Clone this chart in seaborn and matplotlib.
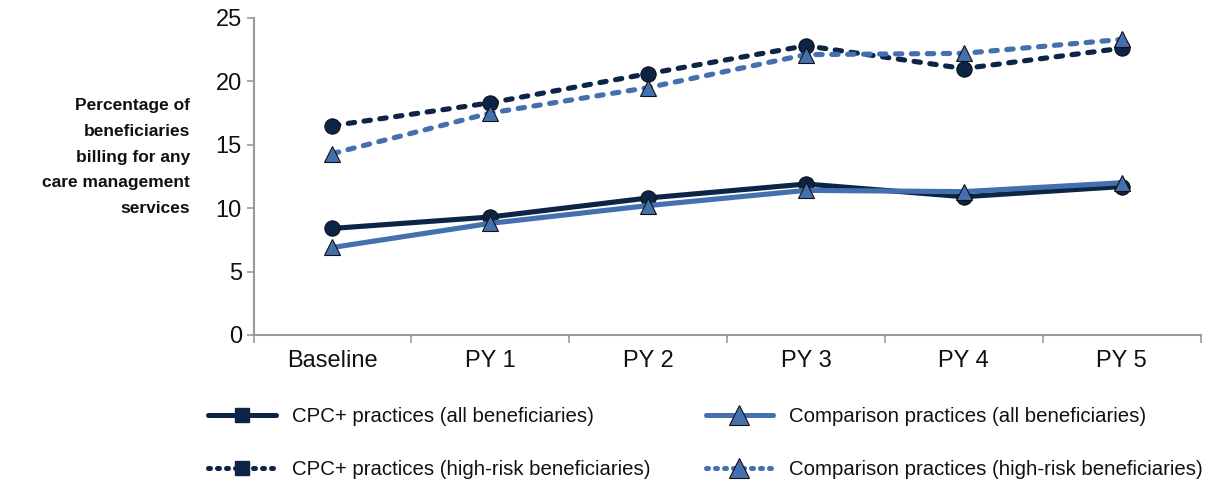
import pandas as pd
import numpy as np
import matplotlib
matplotlib.use('Agg')
import matplotlib.pyplot as plt
from matplotlib.lines import Line2D
import seaborn as sns

# values
periods = ['Baseline', 'PY 1', 'PY 2', 'PY 3', 'PY 4', 'PY 5']
cpc_all = [8.4, 9.3, 10.8, 11.9, 10.9, 11.7]
comp_all = [6.9, 8.8, 10.2, 11.4, 11.3, 12.0]
cpc_high = [16.5, 18.3, 20.6, 22.8, 21.0, 22.6]
comp_high = [14.3, 17.5, 19.5, 22.1, 22.2, 23.3]

labels = ['CPC+ practices (all beneficiaries)',
          'CPC+ practices (high-risk beneficiaries)',
          'Comparison practices (all beneficiaries)',
          'Comparison practices (high-risk beneficiaries)']

navy = '#0c2546'
blue = '#4470b0'

sns.set_theme(style='white')
plt.rcParams['font.family'] = ['Liberation Sans', 'DejaVu Sans']

fig = plt.figure(figsize=(12.25, 4.82), dpi=100)
ax = fig.add_axes([0.207, 0.305, 0.773, 0.658])

dash = (0, (1.25, 1.85))
series = [
    (cpc_high, navy, 'o', dash, 11),
    (comp_high, blue, '^', dash, 12),
    (cpc_all, navy, 'o', '-', 11),
    (comp_all, blue, '^', '-', 12),
]
for vals, col, mk, ls, ms in series:
    df = pd.DataFrame({'period': periods, 'value': vals})
    sns.lineplot(data=df, x='period', y='value', ax=ax, color=col,
                 linewidth=3.7, linestyle=ls, marker=mk, markersize=ms,
                 markerfacecolor=col, markeredgecolor='#111111',
                 markeredgewidth=0.8, sort=False, dash_capstyle='round')

ax.set_xlim(-0.5, len(periods) - 0.5)
ax.set_ylim(0, 25)
ax.set_yticks([0, 5, 10, 15, 20, 25])
ax.set_xticks(range(len(periods)))
ax.set_xticklabels(periods)
ax.set_xticks(np.arange(-0.5, len(periods)), minor=True)
ax.tick_params(axis='x', which='major', length=0, labelsize=17, pad=11,
               colors='#111111')
ax.tick_params(axis='x', which='minor', length=6, width=1.2,
               color='#999999', direction='out', bottom=True)
ax.tick_params(axis='y', length=5, width=1.2, color='#999999',
               direction='out', left=True, labelsize=17, colors='#111111')
ax.set_xlabel('')
ax.set_ylabel('')
for s in ['top', 'right']:
    ax.spines[s].set_visible(False)
for s in ['left', 'bottom']:
    ax.spines[s].set_color('#999999')
    ax.spines[s].set_linewidth(1.5)

fig.text(0.155, 0.674, 'Percentage of\nbeneficiaries\nbilling for any\ncare management\nservices',
         ha='right', va='center', fontsize=12.5, fontweight='bold',
         linespacing=1.9, color='#111111')

dots = (0, (0.4, 1.4))
handles = [
    Line2D([], [], color=navy, lw=3.6, marker='s', markersize=10,
           markeredgecolor=navy),
    Line2D([], [], color=navy, lw=3.6, linestyle=dots, dash_capstyle='round',
           marker='s', markersize=10, markeredgecolor=navy),
    Line2D([], [], color=blue, lw=3.6, marker='^', markersize=14,
           markeredgecolor='#111111', markeredgewidth=0.8),
    Line2D([], [], color=blue, lw=3.6, linestyle=dots, dash_capstyle='round',
           marker='^', markersize=14, markeredgecolor='#111111',
           markeredgewidth=0.8),
]
fig.legend(handles, labels, ncol=2, loc='upper left',
           bbox_to_anchor=(0.155, 0.193), frameon=False, fontsize=14.7,
           handlelength=3.3, handletextpad=0.8, columnspacing=2.7,
           labelspacing=1.65, labelcolor='#111111')

fig.savefig('out.png', dpi=100)
